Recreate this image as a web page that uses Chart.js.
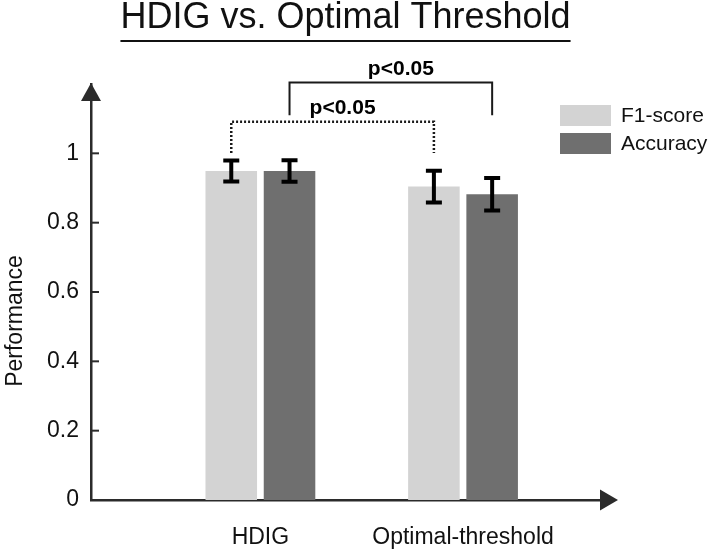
<!DOCTYPE html>
<html>
<head>
<meta charset="utf-8">
<script src="https://cdn.jsdelivr.net/npm/chart.js@4.4.0/dist/chart.umd.min.js"></script>
<style>
  html, body { margin: 0; padding: 0; background: #fff; }
</style>
</head>
<body>
<canvas id="myChart" width="711" height="553"></canvas>
<script>
const categories = ['HDIG', 'Optimal-threshold'];
const f1Score = [0.949, 0.904];
const f1Err = [0.030, 0.046];
const accuracy = [0.949, 0.882];
const accuracyErr = [0.031, 0.047];
const yTicks = [0, 0.2, 0.4, 0.6, 0.8, 1];
const sigLabels = ['p<0.05', 'p<0.05'];

const FONT = "'Liberation Sans', Arial, sans-serif";
const AXIS = '#2b2b2b';

// arrows on the axes + inward tick marks
const axisArrows = {
    id: 'axisArrows',
    afterDraw(chart) {
        const { ctx, chartArea: a, scales } = chart;
        ctx.save();
        ctx.fillStyle = AXIS;
        ctx.beginPath();
        ctx.moveTo(a.left, a.top - 1);
        ctx.lineTo(a.left - 10, a.top + 17);
        ctx.lineTo(a.left + 10, a.top + 17);
        ctx.closePath();
        ctx.fill();
        ctx.beginPath();
        ctx.moveTo(a.right + 18, a.bottom);
        ctx.lineTo(a.right, a.bottom - 10.5);
        ctx.lineTo(a.right, a.bottom + 10.5);
        ctx.closePath();
        ctx.fill();
        ctx.strokeStyle = AXIS;
        ctx.lineWidth = 2;
        yTicks.forEach(v => {
            if (v === 0) return;
            const y = scales.y.getPixelForValue(v);
            ctx.beginPath();
            ctx.moveTo(a.left, y);
            ctx.lineTo(a.left + 8, y);
            ctx.stroke();
        });
        ctx.restore();
    }
};

const errorBars = {
    id: 'errorBars',
    afterDatasetsDraw(chart) {
        const { ctx, scales } = chart;
        ctx.save();
        ctx.strokeStyle = '#000';
        ctx.lineWidth = 4;
        chart.data.datasets.forEach((ds, i) => {
            chart.getDatasetMeta(i).data.forEach((bar, j) => {
                const v = ds.data[j].y, e = ds.errors[j];
                const top = scales.y.getPixelForValue(v + e);
                const bot = scales.y.getPixelForValue(v - e);
                ctx.beginPath();
                ctx.moveTo(bar.x, top); ctx.lineTo(bar.x, bot);
                ctx.moveTo(bar.x - 8, top); ctx.lineTo(bar.x + 8, top);
                ctx.moveTo(bar.x - 8, bot); ctx.lineTo(bar.x + 8, bot);
                ctx.stroke();
            });
        });
        ctx.restore();
    }
};

// significance brackets between the two groups
const brackets = {
    id: 'brackets',
    afterDraw(chart) {
        const { ctx, scales } = chart;
        const defs = [
            { ds: 0, top: 1.091, leg: 1.001, dotted: true },
            { ds: 1, top: 1.204, leg: 1.11, dotted: false }
        ];
        ctx.save();
        defs.forEach((d, k) => {
            const bars = chart.getDatasetMeta(d.ds).data;
            const x1 = bars[0].x, x2 = bars[1].x;
            const yt = scales.y.getPixelForValue(d.top);
            const yl = scales.y.getPixelForValue(d.leg);
            ctx.strokeStyle = '#1a1a1a';
            ctx.lineWidth = d.dotted ? 2.5 : 2;
            ctx.setLineDash(d.dotted ? [2, 2] : []);
            ctx.beginPath();
            ctx.moveTo(x1, yl); ctx.lineTo(x1, yt); ctx.lineTo(x2, yt); ctx.lineTo(x2, yl);
            ctx.stroke();
            ctx.setLineDash([]);
            ctx.fillStyle = '#000';
            ctx.font = 'bold 21px ' + FONT;
            ctx.textAlign = 'center';
            ctx.textBaseline = 'alphabetic';
            ctx.fillText(sigLabels[k], (x1 + x2) / 2 + 10, yt - 8);
        });
        ctx.restore();
    }
};

const extras = {
    id: 'extras',
    afterDraw(chart) {
        const { ctx } = chart;
        ctx.save();
        // underline the title
        const t = chart.titleBlock;
        ctx.font = '36px ' + FONT;
        const w = ctx.measureText(t.options.text).width;
        const cx = t.left + t.width / 2;
        ctx.fillStyle = '#111';
        ctx.fillRect(cx - w / 2, 40, w, 2);
        // legend
        chart.data.datasets.forEach((ds, i) => {
            const y = 105 + i * 28;
            ctx.fillStyle = ds.backgroundColor;
            ctx.fillRect(560, y, 51, 21);
            ctx.fillStyle = '#111';
            ctx.font = '21px ' + FONT;
            ctx.textAlign = 'left';
            ctx.textBaseline = 'middle';
            ctx.fillText(ds.label, 621, y + 11);
        });
        // y axis title
        ctx.translate(16, 321);
        ctx.rotate(-Math.PI / 2);
        ctx.font = '23px ' + FONT;
        ctx.textAlign = 'center';
        ctx.textBaseline = 'middle';
        ctx.fillText('Performance', 0, 0);
        ctx.restore();
    }
};

const ctx = document.querySelector('#myChart');
const myChart = new Chart(ctx, {
    type: 'bar',
    data: {
        datasets: [
            {
                label: 'F1-score',
                data: categories.map((c, i) => ({ x: i + 1, y: f1Score[i] })),
                errors: f1Err,
                backgroundColor: '#d3d3d3'
            },
            {
                label: 'Accuracy',
                data: categories.map((c, i) => ({ x: i + 1, y: accuracy[i] })),
                errors: accuracyErr,
                backgroundColor: '#6f6f6f'
            }
        ]
    },
    options: {
        responsive: false,
        animation: false,
        devicePixelRatio: 1,
        categoryPercentage: 0.575,
        barPercentage: 0.885,
        layout: { padding: { left: 0, right: 111, top: 0, bottom: 0 } },
        plugins: {
            legend: { display: false },
            tooltip: { enabled: false },
            title: {
                display: true,
                text: 'HDIG vs. Optimal Threshold',
                fullSize: false,
                color: '#111',
                font: { family: FONT, size: 36, weight: 'normal', lineHeight: 1.0 },
                padding: { top: 0, bottom: 48 }
            }
        },
        scales: {
            x: {
                type: 'linear',
                offset: false,
                min: 0.164,
                max: 2.676,
                afterBuildTicks: s => { s.ticks = categories.map((c, i) => ({ value: i + 1 })); },
                afterFit: s => { s.height = 53; },
                ticks: {
                    callback: v => categories[v - 1] || '',
                    color: '#111',
                    font: { family: FONT, size: 23 },
                    padding: 24,
                    maxRotation: 0,
                    autoSkip: false
                },
                grid: { display: false, drawTicks: false, offset: false },
                border: { display: true, color: AXIS, width: 2.5 }
            },
            y: {
                min: 0,
                max: 1.2,
                afterBuildTicks: s => { s.ticks = yTicks.map(v => ({ value: v })); },
                afterFit: s => { s.width = 91; },
                ticks: {
                    callback: v => v.toString(),
                    color: '#111',
                    font: { family: FONT, size: 23 },
                    padding: 12
                },
                grid: { display: false, drawTicks: false },
                border: { display: true, color: AXIS, width: 2.5 }
            }
        }
    },
    plugins: [errorBars, brackets, axisArrows, extras]
});
</script>
</body>
</html>
